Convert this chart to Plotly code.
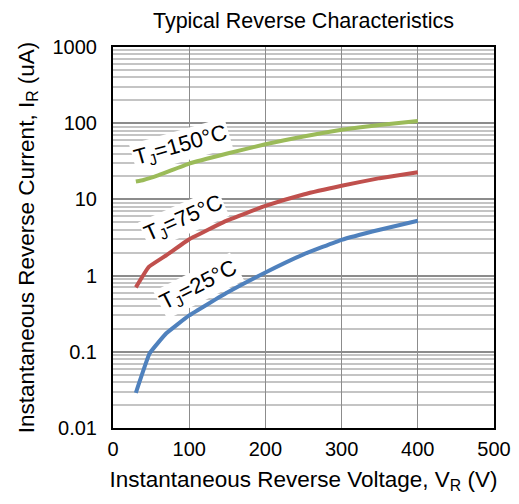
import math
import plotly.graph_objects as go

# Data
v_150 = [30, 40, 60, 100, 150, 200, 250, 300, 350, 400]
i_150 = [17.2, 18.0, 20.8, 29.5, 40, 53, 67, 82, 95, 107]

v_75 = [30, 47, 70, 100, 150, 200, 250, 300, 350, 400]
i_75 = [0.70, 1.30, 1.85, 3.0, 5.3, 8.2, 11.6, 15.1, 19.0, 22.7]

v_25 = [30, 48, 70, 100, 150, 200, 250, 300, 350, 400]
i_25 = [0.029, 0.095, 0.175, 0.30, 0.60, 1.10, 1.90, 2.95, 4.0, 5.25]

x_ticks = [0, 100, 200, 300, 400, 500]
y_ticks = [0.01, 0.1, 1, 10, 100, 1000]
y_ticklabels = ["0.01", "0.1", "1", "10", "100", "1000"]

labels = ["T<sub>J</sub>=150°C", "T<sub>J</sub>=75°C", "T<sub>J</sub>=25°C"]
label_v = [89, 93, 112]
label_i = [50, 5.6, 0.74]
label_angle = [-16, -24, -27]

colors = ["#9BBB59", "#C0504D", "#4F81BD"]

minor_vals = [m * 10.0 ** d for d in range(-2, 3) for m in range(2, 10)]

fig = go.Figure()
for vx, iy, c in [(v_150, i_150, colors[0]), (v_75, i_75, colors[1]), (v_25, i_25, colors[2])]:
    fig.add_trace(go.Scatter(x=vx, y=iy, mode="lines",
                             line=dict(color=c, width=4, shape="spline", smoothing=0.3),
                             showlegend=False, hoverinfo="skip"))

for t, xv, yv, a in zip(labels, label_v, label_i, label_angle):
    fig.add_annotation(x=xv, y=math.log10(yv), text=t, showarrow=False,
                       textangle=a, bgcolor="white", borderpad=1,
                       font=dict(family="Liberation Sans, Arial", size=22, color="black"))

font = dict(family="Liberation Sans, Arial", color="black")
# the page body adds an 8px offset, so the figure is 8px smaller than the window
W, H, OFF = 511, 496, 8
fig.update_layout(
    width=W, height=H,
    margin=dict(l=113 - OFF, r=25, t=47 - OFF, b=76),
    paper_bgcolor="white", plot_bgcolor="white",
    title=dict(text="Typical Reverse Characteristics",
               x=((113 + 494) / 2 - OFF) / W, xanchor="center",
               y=1 - (20 - OFF) / H, yanchor="middle", font=dict(size=21.5, **font)),
    font=dict(size=20, **font),
)
fig.update_xaxes(range=[0, 500], tickvals=x_ticks, ticks="", showline=True,
                 linecolor="black", linewidth=2, mirror=True, automargin=False,
                 showgrid=True, gridcolor="#8c8c8c", gridwidth=1, zeroline=False,
                 tickfont=dict(size=20, **font), ticklabelstandoff=2,
                 title=dict(text="Instantaneous Reverse Voltage, V<sub>R</sub> (V)",
                            font=dict(size=22.5, **font), standoff=12))
fig.update_yaxes(type="log", range=[-2, 3], tickvals=y_ticks, ticktext=y_ticklabels,
                 ticks="", showline=True, linecolor="black", linewidth=2, mirror=True,
                 automargin=False,
                 showgrid=True, gridcolor="#8c8c8c", gridwidth=1.5, zeroline=False,
                 tickfont=dict(size=20, **font), ticklabelstandoff=10,
                 minor=dict(tickvals=minor_vals, showgrid=True, gridcolor="#c4c4c4", gridwidth=2),
                 title=dict(text="Instantaneous Reverse Current, I<sub>R</sub> (uA)",
                            font=dict(size=22.5, **font), standoff=12))

fig.write_html("out.html")
